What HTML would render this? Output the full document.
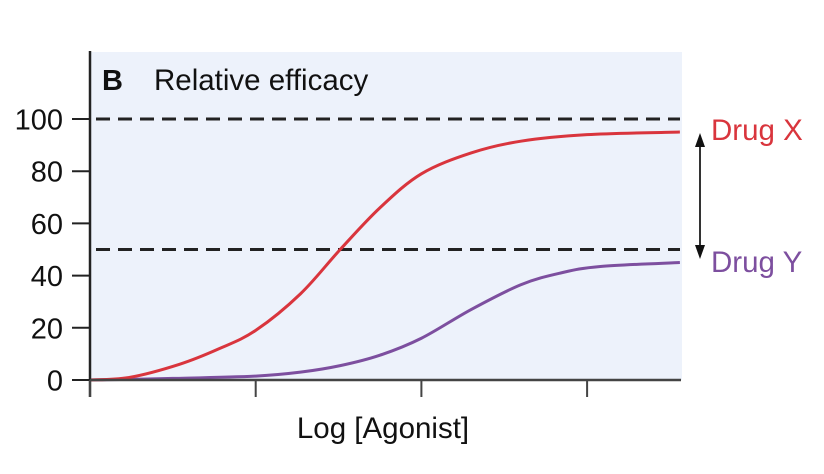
<!DOCTYPE html>
<html><head><meta charset="utf-8"><style>
html,body{margin:0;padding:0;background:#fff;}
svg{display:block;font-family:"Liberation Sans",Arial,sans-serif;}
</style></head><body>
<svg id="chart" width="824" height="474" viewBox="0 0 824 474">
<rect x="91" y="52" width="591" height="328" fill="#edf2fb"/>
<g id="grid"></g>
<g id="curves"></g>
<line x1="90" y1="51" x2="90" y2="397" stroke="#222" stroke-width="2.5"/>
<line x1="90" y1="380" x2="681" y2="380" stroke="#444" stroke-width="2.5"/>
<g id="ticks"></g>
<text x="102" y="90" font-size="29" font-weight="bold" fill="#111">B</text>
<text x="154" y="90" font-size="29.5" fill="#111">Relative efficacy</text>
<text x="383" y="438" font-size="29.5" fill="#111" text-anchor="middle">Log [Agonist]</text>
<text x="711" y="140" font-size="29.5" fill="#d9353d">Drug X</text>
<text x="711" y="272" font-size="29.5" fill="#7d4f9f">Drug Y</text>
<g>
<line x1="700" y1="142" x2="700" y2="252" stroke="#333" stroke-width="2"/>
<polygon points="700,133 695,147 705,147" fill="#111"/>
<polygon points="700,259 695,245 705,245" fill="#111"/>
</g>
</svg>
<script>
const yTicks = [0,20,40,60,80,100];
const xTicks = [0,1,2,3];
const refLines = [100,50];
const xs = [0,0.24,0.54,0.78,1.0,1.27,1.51,1.75,2.0,2.3,2.6,3.0,3.56];
const drugX = [0,1,6,12,19,33,50,66,79,87,91.5,94,95];
const xsY = [0,0.5,1.0,1.27,1.51,1.75,2.0,2.3,2.6,2.84,3.08,3.56];
const drugY = [0,0.6,1.5,3,5.5,9.5,16,27,36.5,41,43.5,45];
const NS='http://www.w3.org/2000/svg';
const X0=90, XS=165.7, Y0=380, YS=2.61;
const xp=v=>X0+v*XS, yp=v=>Y0-v*YS;
function mk(tag,attrs,parent){const e=document.createElementNS(NS,tag);for(const k in attrs)e.setAttribute(k,attrs[k]);parent.appendChild(e);return e;}
const grid=document.getElementById('grid'),ticks=document.getElementById('ticks'),curves=document.getElementById('curves');
refLines.forEach(v=>{
 const l=mk('line',{x1:96,x2:680,y1:yp(v),y2:yp(v),stroke:'#222','stroke-width':3,'stroke-dasharray':'14,8'},grid);
 
 
});
yTicks.forEach(v=>{
 const t=mk('line',{x1:72,x2:90,y1:yp(v),y2:yp(v),stroke:'#222','stroke-width':2},ticks);
 
 
 const tx=mk('text',{x:63,y:yp(v)+10.5,'font-size':29,'text-anchor':'end',fill:'#111'},ticks);
 tx.textContent=v;
 
 
});
xTicks.forEach(v=>{
 const t=mk('line',{x1:xp(v),x2:xp(v),y1:380,y2:397,stroke:'#444','stroke-width':2},ticks);
 
 
});
function pathFor(xv,yv){
 const p=xv.map((x,i)=>[xp(x),yp(yv[i])]);
 let d='M'+p[0][0]+','+p[0][1];
 for(let i=0;i<p.length-1;i++){
  const p0=p[i-1]||p[i],p1=p[i],p2=p[i+1],p3=p[i+2]||p2;
  const c1=[p1[0]+(p2[0]-p0[0])/6,p1[1]+(p2[1]-p0[1])/6];
  const c2=[p2[0]-(p3[0]-p1[0])/6,p2[1]-(p3[1]-p1[1])/6];
  d+=' C'+c1+' '+c2+' '+p2;
 }
 return d;
}
const cy=mk('path',{d:pathFor(xsY,drugY),fill:'none',stroke:'#7d4f9f','stroke-width':3},curves);


const cx=mk('path',{d:pathFor(xs,drugX),fill:'none',stroke:'#d9353d','stroke-width':3},curves);


</script>
</body></html>
